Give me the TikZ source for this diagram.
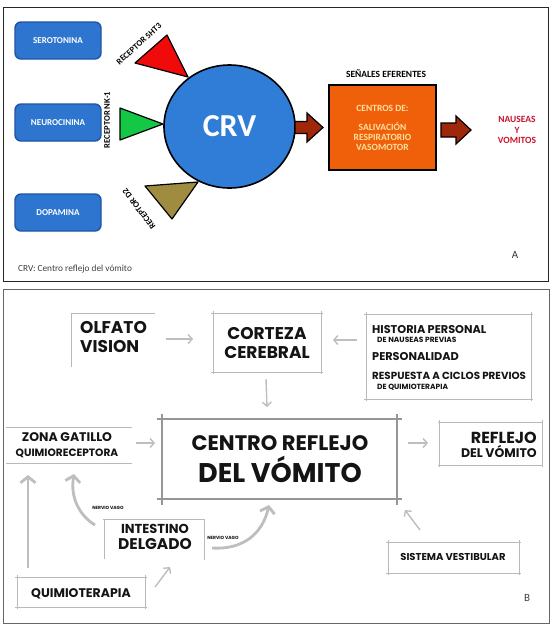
\documentclass[tikz,border=0pt]{standalone}
\usepackage{fontspec}
\setmainfont{Carlito}[BoldFont={Carlito Bold}]
\newfontfamily\pop{Poppins}
\usetikzlibrary{arrows.meta,shapes.geometric}
\definecolor{bluefill}{RGB}{46,117,207}
\definecolor{blueedge}{RGB}{30,85,165}
\definecolor{crvfill}{RGB}{48,125,215}
\definecolor{redtri}{RGB}{240,10,10}
\definecolor{greentri}{RGB}{20,200,70}
\definecolor{olivetri}{RGB}{160,140,65}
\definecolor{orangebox}{RGB}{240,95,10}
\definecolor{creamtxt}{RGB}{255,225,160}
\definecolor{arrowred}{RGB}{160,40,10}
\definecolor{nausred}{RGB}{200,20,45}
\definecolor{linegray}{RGB}{185,185,185}
\definecolor{boxgray}{RGB}{150,150,150}
\definecolor{arrgray}{RGB}{190,190,190}
\definecolor{txtb}{RGB}{20,20,20}
\newcommand\pbf[1]{\pop\bfseries\fontsize{#1}{#1}\selectfont}
\newcommand\cbf[1]{\bfseries\fontsize{#1}{#1}\selectfont}
\begin{document}
\begin{tikzpicture}[x=1pt,y=-1pt,
  bluebox/.style={draw=blueedge, fill=bluefill, line width=1.4pt, rounded corners=6pt,
    minimum width=86pt, minimum height=37pt, text=white, font=\cbf{9}},
  tri/.style={draw=black, line width=1.2pt, line join=round},
  rec/.style={font=\cbf{8.6}, inner sep=0pt},
  barrow/.style={draw=black, fill=arrowred, line width=1.2pt, line join=miter},
  bl/.style={draw=linegray, line width=0.8pt},
  bc/.style={draw=boxgray, line width=1.1pt},
  ga/.style={draw=arrgray, line width=1.4pt, -{Straight Barb[length=4pt,width=9pt]}},
  gthick/.style={draw=arrgray, line width=2.8pt, -{Straight Barb[length=6pt,width=15pt]}},
  tb/.style={text=txtb, inner sep=0pt},
  nv/.style={text=txtb, inner sep=0pt, font=\pbf{4.5}}
]
\useasboundingbox (0,0) rectangle (555,633);
\fill[white] (0,0) rectangle (555,633);

%% ---------------- Panel A ----------------
\draw[black!85, line width=0.9pt] (3,7) rectangle (548,281);

\node[bluebox] (sero) at (58,40.5) {SEROTONINA};
\node[bluebox] (neuro) at (58,122.5) {NEUROCININA};
\node[bluebox] (dopa) at (58,212.5) {DOPAMINA};

\draw[tri, fill=redtri] (135,63) -- (167,35) -- (188,77) -- cycle;
\draw[tri, fill=greentri] (120,108) -- (120,140) -- (163,124) -- cycle;
\draw[tri, fill=olivetri] (145,186) -- (198,182) -- (172,219) -- cycle;

\node[draw=black, fill=crvfill, line width=1.6pt, ellipse, minimum width=131pt, minimum height=123pt,
  inner sep=0pt, text=white, font=\cbf{32}] (crv) at (229.5,126.5) {CRV};

\node[rec, rotate=42] (r5ht3) at (139,44) {RECEPTOR 5HT3};
\node[rec, rotate=90] (rnk1) at (107,120) {RECEPTOR NK-1};
\node[rec, rotate=127] (rd2) at (139,209) {RECEPTOR D2};

\draw[barrow] (295,121.5) -- (307,121.5) -- (307,113) -- (323,127.5) -- (307,142) -- (307,133.5) -- (295,133.5) -- cycle;

\node[font=\cbf{9.5}, inner sep=0pt] (senales) at (386,74) {SEÑALES EFERENTES};
\node[draw=black, fill=orangebox, line width=1.8pt, minimum width=107pt, minimum height=85pt,
  text=creamtxt, align=center, font=\bfseries\fontsize{9.5}{10}\selectfont] (centros) at (382.5,127.5)
  {CENTROS DE:\\[9pt]SALIVACIÓN\\RESPIRATORIO\\VASOMOTOR};

\draw[barrow] (441,123) -- (456,123) -- (456,116) -- (471,130) -- (456,144) -- (456,137) -- (441,137) -- cycle;

\node[text=nausred, align=center, font=\bfseries\fontsize{9.5}{10.5}\selectfont] (naus) at (517,130) {NAUSEAS\\Y\\VOMITOS};

\node[font=\fontsize{11}{11}\selectfont, text=black!80] (labA) at (515,255) {A};
\node[anchor=west, inner sep=0pt, text=black!75, font=\fontsize{9.3}{9}\selectfont] (cap) at (18,269) {CRV: Centro reflejo del vómito};

%% ---------------- Panel B ----------------
\draw[black!60, line width=0.9pt] (3,289) rectangle (549,623);

% box lines
\draw[bl] (71,313) -- (71,367) (71,313) -- (155,313);
\draw[bl] (211,313) -- (323,313) (211,372) -- (323,372) (213,311) -- (213,374) (321,311) -- (321,374);
\draw[bl] (364,314) -- (533,314) (364,399) -- (533,399) (366,312) -- (366,401) (531,312) -- (531,401);
\draw[bl] (6,427) -- (132,427) (6,463) -- (132,463);
\draw[bc] (157,419) -- (402,419) (157,499) -- (402,499) (162,414) -- (162,505) (397,414) -- (397,505);
\draw[bl] (438,422) -- (543,422) (438,465) -- (543,465) (439,420) -- (439,467) (542,420) -- (542,467);
\draw[bl] (103,519) -- (205,519) (104,519) -- (104,559) (204,519) -- (204,560);
\draw[bl] (15,577) -- (147,577) (15,607) -- (147,607) (17,575) -- (17,609) (145,575) -- (145,609);
\draw[bl] (386,542) -- (521,542) (386,573) -- (521,573) (388,540) -- (388,575) (519,540) -- (519,575);

% texts
\node[tb, anchor=base west, font=\pbf{17}] (olf) at (80,333.5) {OLFATO};
\node[tb, anchor=base west, font=\pbf{17}] (vis) at (80,352.5) {VISION};
\node[tb, anchor=base, font=\pbf{17}] (cor) at (267,339.5) {CORTEZA};
\node[tb, anchor=base, font=\pbf{17}] (cer) at (267,358.5) {CEREBRAL};
\node[tb, anchor=base west, font=\pbf{11.3}] (hist) at (372,333.5) {HISTORIA PERSONAL};
\node[tb, anchor=base west, font=\pbf{7.5}] (dnaus) at (377,342) {DE NAUSEAS PREVIAS};
\node[tb, anchor=base west, font=\pbf{11.3}] (pers) at (372,360.5) {PERSONALIDAD};
\node[tb, anchor=base west, font=\pbf{10.3}] (resp) at (372,379) {RESPUESTA A CICLOS PREVIOS};
\node[tb, anchor=base west, font=\pbf{7.5}] (dquim) at (377,389) {DE QUIMIOTERAPIA};
\node[tb, anchor=base, font=\pbf{12.5}] (zona) at (67,441.5) {ZONA GATILLO};
\node[tb, anchor=base, font=\pbf{10.6}] (quimr) at (67,456) {QUIMIORECEPTORA};
\node[tb, anchor=base, font=\pbf{21}] (crefl) at (280,450.5) {CENTRO REFLEJO};
\node[tb, anchor=base, font=\pbf{27}] (delv) at (280,482) {DEL VÓMITO};
\node[tb, anchor=base east, font=\pbf{16}] (refl) at (537,443) {REFLEJO};
\node[tb, anchor=base east, font=\pbf{12.5}] (delv2) at (537,457) {DEL VÓMITO};
\node[tb, anchor=base, font=\pbf{13}] (intes) at (155,533) {INTESTINO};
\node[tb, anchor=base, font=\pbf{15.5}] (delg) at (155,549) {DELGADO};
\node[tb, anchor=base, font=\pbf{12.5}] (quimio) at (81,597.5) {QUIMIOTERAPIA};
\node[tb, anchor=base, font=\pbf{10}] (sist) at (453,560.5) {SISTEMA VESTIBULAR};
\node[nv] (nv1) at (108,508) {NERVIO VAGO};
\node[nv] (nv2) at (223,538) {NERVIO VAGO};
\node[font=\fontsize{11}{11}\selectfont, text=black!75] (labB) at (527,598) {B};

% arrow end points
\coordinate (a1s) at (166,339); \coordinate (a1e) at (193,339);
\coordinate (a2s) at (357,340); \coordinate (a2e) at (333,340);
\coordinate (a3s) at (266,379); \coordinate (a3e) at (267,407);
\coordinate (a4s) at (136,443); \coordinate (a4e) at (155,443);
\coordinate (a5s) at (408,443); \coordinate (a5e) at (428,443);
\coordinate (a6s) at (420,530); \coordinate (a6e) at (405,510);
\coordinate (a7s) at (155,587); \coordinate (a7e) at (170,567);
\coordinate (a8s) at (28,568); \coordinate (a8e) at (28,475);
\coordinate (a9s) at (95,525); \coordinate (a9e) at (74,474);
\coordinate (a10s) at (212,548); \coordinate (a10e) at (269,505);

\draw[ga] (a1s) -- (a1e);
\draw[ga] (a2s) -- (a2e);
\draw[ga] (a3s) -- (a3e);
\draw[ga] (a4s) -- (a4e);
\draw[ga] (a5s) -- (a5e);
\draw[ga] (a6s) -- (a6e);
\draw[ga] (a7s) -- (a7e);
\draw[gthick] (a8s) -- (a8e);
\draw[gthick] (a9s) .. controls (80,516) and (70,498) .. (a9e);
\draw[gthick] (a10s) .. controls (245,550) and (263,532) .. (a10e);
\end{tikzpicture}
\end{document}
